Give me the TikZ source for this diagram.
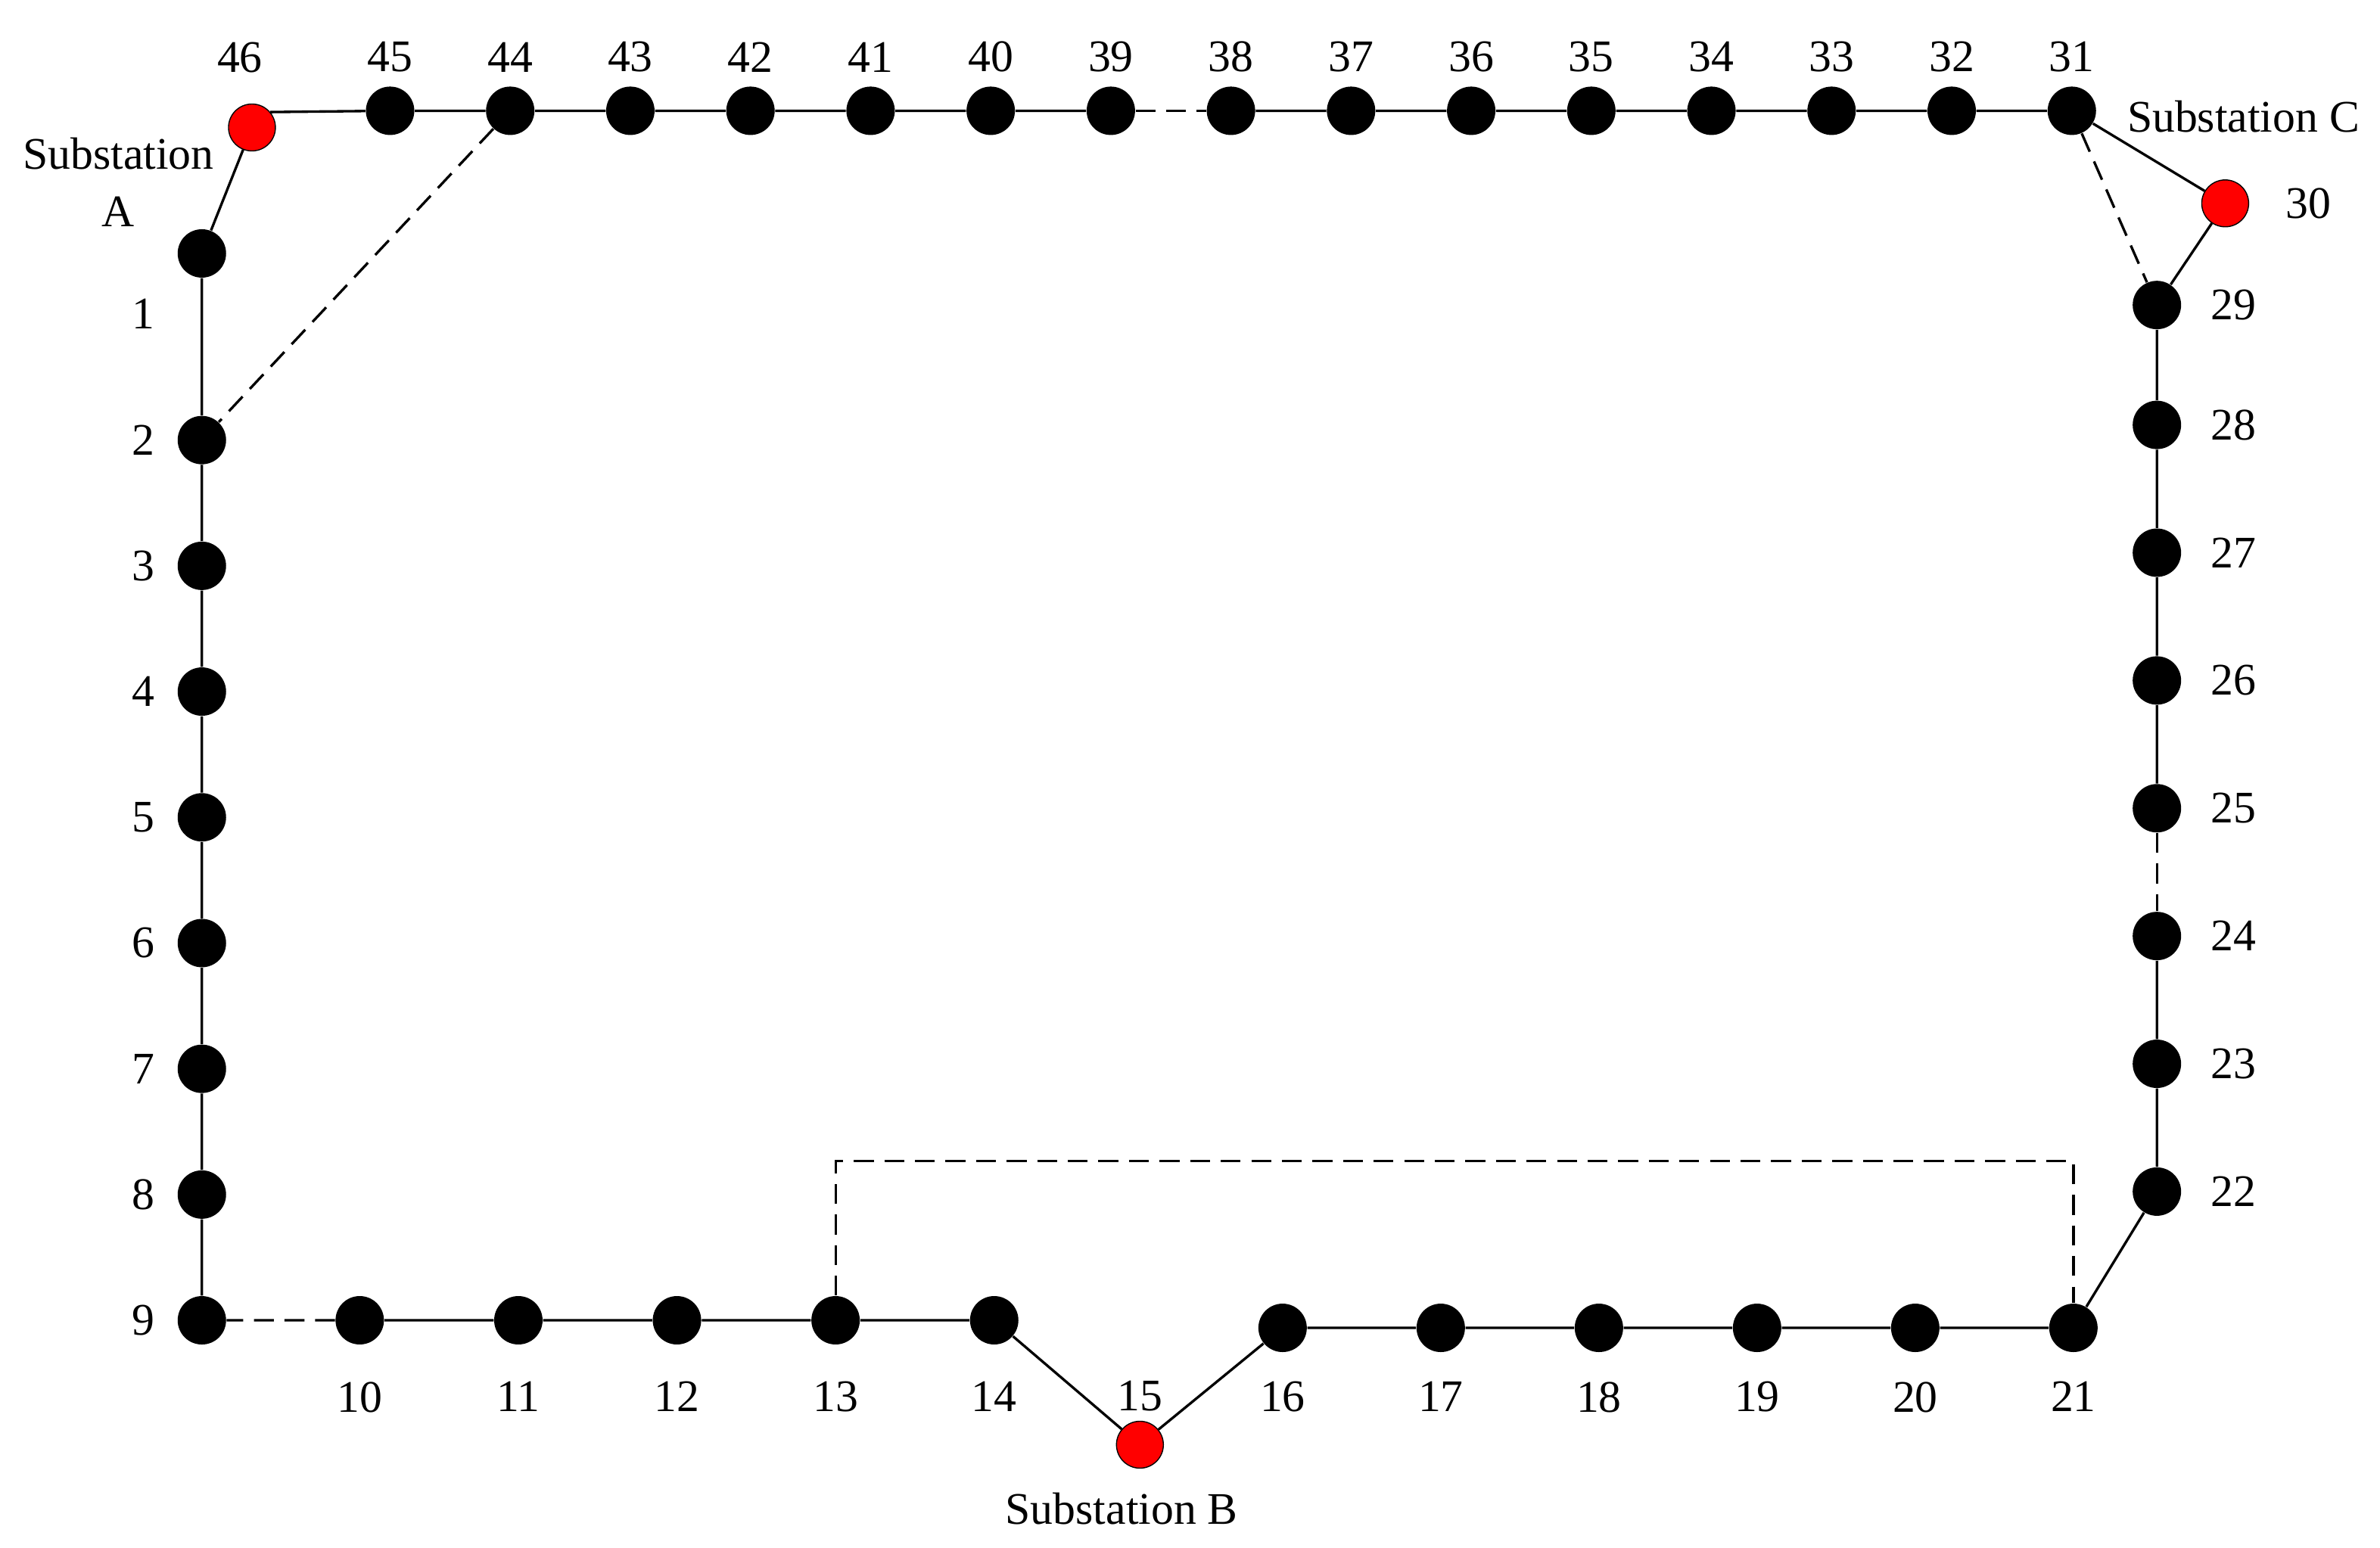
\documentclass[tikz,border=0pt]{standalone}
\usepackage{fontspec}
\setmainfont{Liberation Serif}
\begin{document}
\begin{tikzpicture}[
  x=0.02006cm, y=-0.02006cm,
  every node/.style={font=\fontsize{17}{21.5}\selectfont},
  every label/.style={inner sep=0pt},
  bus/.style={shape=circle, fill=black, inner sep=0pt, minimum size=0.64cm},
  sub/.style={shape=circle, fill=red, draw=black, thin, inner sep=0pt, minimum size=0.62cm},
  feeder/.style={line width=0.95pt},
  tie/.style={line width=0.95pt, dash pattern=on 7.5pt off 4pt}
]
  \useasboundingbox (0,0) rectangle (1568,1020);
  \foreach \i in {31,...,45}
    \node[bus, label={[label distance=0.18cm]above:\i}] (n\i) at ({257+(45-\i)*79.14},73) {};
  \node[sub, label={[label distance=0.4cm, xshift=-0.16cm]above:46}] (n46) at (166,84) {};
  \node[bus, label={[label distance=0.29cm, yshift=-0.8cm]left:1}] (n1) at (133,167) {};
  \foreach \i in {2,...,9}
    \node[bus, label={[label distance=0.29cm]left:\i}] (n\i) at (133,{290+(\i-2)*82.86}) {};
  \foreach \i in {10,...,14}
    \node[bus, label={[label distance=0.48cm]below:\i}] (n\i) at ({237+(\i-10)*104.5},870) {};
  \node[sub, label={[label distance=0.12cm]above:15}] (n15) at (751,952) {};
  \foreach \i in {16,...,21}
    \node[bus, label={[label distance=0.38cm]below:\i}] (n\i) at ({845+(\i-16)*104.2},875) {};
  \foreach \i in {22,...,28}
    \node[bus, label={[label distance=0.38cm]right:\i}] (n\i) at (1421,{280+(28-\i)*84.2}) {};
  \node[bus, label={[label distance=0.38cm]right:29}] (n29) at (1421,201) {};
  \node[sub, label={[label distance=0.48cm]right:30}] (n30) at (1466,134) {};

  \node[align=center] (subA) at (78,120) {Substation\\A};
  \node (subB) at (739,994) {Substation B};
  \node (subC) at (1478,77) {Substation C};
  \coordinate (tieTop) at (960,765);

  \draw[feeder] (n46.40) -- (n45) -- (n44) -- (n43) -- (n42) -- (n41) -- (n40) -- (n39);
  \draw[tie] (n39) -- (n38);
  \draw[feeder] (n38) -- (n37) -- (n36) -- (n35) -- (n34) -- (n33) -- (n32) -- (n31)
    -- (n30) -- (n29) -- (n28) -- (n27) -- (n26) -- (n25);
  \draw[tie] (n25) -- (n24);
  \draw[feeder] (n24) -- (n23) -- (n22) -- (n21) -- (n20) -- (n19) -- (n18) -- (n17)
    -- (n16) -- (n15) -- (n14) -- (n13) -- (n12) -- (n11) -- (n10);
  \draw[tie] (n10) -- (n9);
  \draw[feeder] (n9) -- (n8) -- (n7) -- (n6) -- (n5) -- (n4) -- (n3) -- (n2) -- (n1) -- (n46);
  \draw[tie] (n44) -- (n2);
  \draw[tie] (n31) -- (n29);
  \draw[tie] (n13) |- (tieTop) -| (n21);
\end{tikzpicture}
\end{document}
